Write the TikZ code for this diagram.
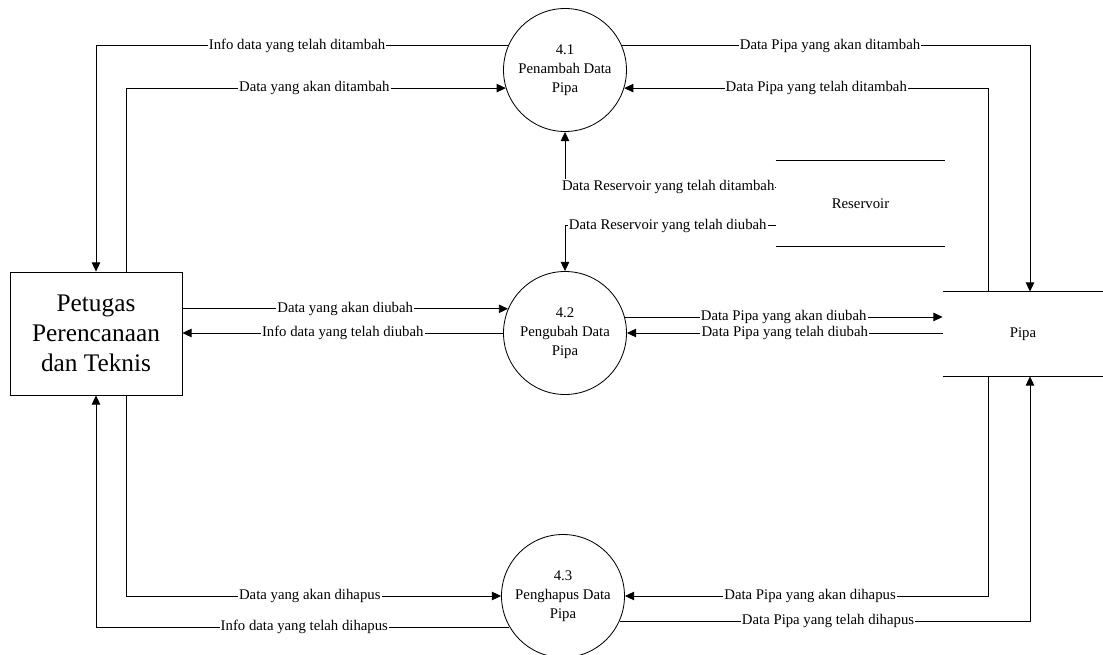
\documentclass[tikz,border=0pt]{standalone}
\usepackage{fontspec}
\setmainfont{Liberation Serif}
\usepackage{tikz}
\usetikzlibrary{arrows.meta, positioning, calc}

\begin{document}
\begin{tikzpicture}[x=0.25mm, y=-0.25mm, line width=0.6pt,
	proc/.style={circle, draw, minimum size=30.75mm, inner sep=0pt, align=center, font=\fontsize{10.5}{13.5}\selectfont},
	ent/.style={rectangle, draw, minimum width=43mm, minimum height=30.75mm, align=center, font=\fontsize{18}{21.5}\selectfont},
	store/.style={inner sep=0pt, font=\fontsize{10.5}{13}\selectfont},
	flow/.style={-{Triangle[length=6.5pt, width=6pt]}},
	lbl/.style={fill=white, inner sep=0.8pt, font=\fontsize{10.5}{12}\selectfont}]
				\useasboundingbox (0,0) rectangle (1103,655);
				\node[ent] (petugas) at (96,333.5) {Petugas\\Perencanaan\\dan Teknis};
				\node[proc] (tambah) at (565,70) {4.1\\Penambah Data\\Pipa};
				\node[proc] (ubah) at (565,333) {4.2\\Pengubah Data\\Pipa};
				\node[proc] (hapus) at (563,596) {4.3\\Penghapus Data\\Pipa};
				\node[store, minimum width=40mm, minimum height=21mm] (pipa) at (1023,334) {Pipa};
				\node[store, minimum width=42.25mm, minimum height=21.25mm] (reservoir) at (860.5,203.5) {Reservoir};
				\draw (pipa.north west) -- (pipa.north east) (pipa.south west) -- (pipa.south east);
				\draw (reservoir.north west) -- (reservoir.north east) (reservoir.south west) -- (reservoir.south east);
				\draw[flow] (tambah.157) -| (petugas.north) node[lbl, pos=0.256] {Info data yang telah ditambah};
				\draw[flow] ([xshift=7.5mm]petugas.north) |- (tambah.197) node[lbl, pos=0.748] {Data yang akan ditambah};
				\draw[flow] (tambah.23) -| ([xshift=1.75mm]pipa.north) node[lbl, pos=0.255] {Data Pipa yang akan ditambah};
				\draw[flow] ([xshift=-8.75mm]pipa.north) |- (tambah.343) node[lbl, pos=0.736] {Data Pipa yang telah ditambah};
				\draw[flow] ([yshift=4.1mm]reservoir.west) -| (tambah.south) node[lbl, pos=0.255] {Data Reservoir yang telah ditambah};
				\draw[flow] ([yshift=-5.6mm]reservoir.west) -| (ubah.north) node[lbl, pos=0.256] {Data Reservoir yang telah diubah};
				\draw[flow] (ubah.157 -| petugas.east) -- (ubah.157) node[lbl, pos=0.5] {Data yang akan diubah};
				\draw[flow] (ubah.west) -- (ubah.west -| petugas.east) node[lbl, pos=0.5] {Info data yang telah diubah};
				\draw[flow] (ubah.15) -- (ubah.15 -| pipa.west) node[lbl, pos=0.5] {Data Pipa yang akan diubah};
				\draw[flow] (ubah.east -| pipa.west) -- (ubah.east) node[lbl, pos=0.5] {Data Pipa yang telah diubah};
				\draw[flow] ([xshift=7.5mm]petugas.south) |- (hapus.west) node[lbl, pos=0.745] {Data yang akan dihapus};
				\draw[flow] (hapus.210) -| (petugas.south) node[lbl, pos=0.248] {Info data yang telah dihapus};
				\draw[flow] ([xshift=-8.75mm]pipa.south) |- (hapus.east) node[lbl, pos=0.745] {Data Pipa yang akan dihapus};
				\draw[flow] (hapus.336) -| ([xshift=1.75mm]pipa.south) node[lbl, pos=0.254] {Data Pipa yang telah dihapus};
			\end{tikzpicture}
\end{document}
